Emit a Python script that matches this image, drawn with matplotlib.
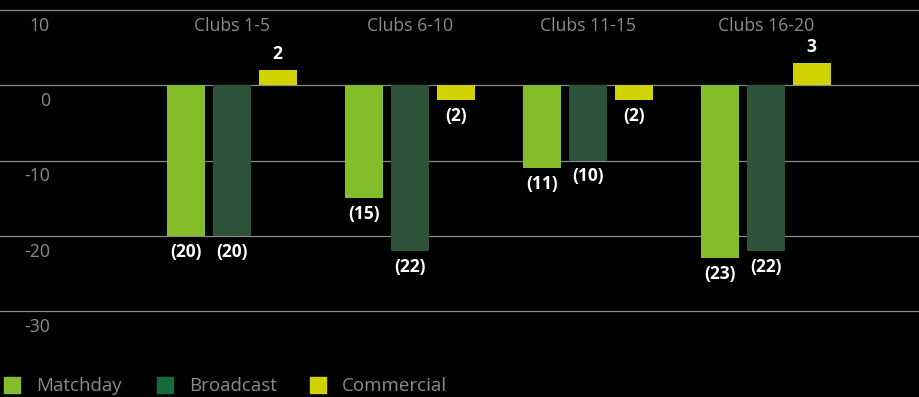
import numpy as np
import matplotlib.pyplot as plt
from matplotlib.patches import Rectangle

plt.rcParams['font.family'] = ['Open Sans', 'DejaVu Sans']

# Data
groups = ['Clubs 1-5', 'Clubs 6-10', 'Clubs 11-15', 'Clubs 16-20']
series = ['Matchday', 'Broadcast', 'Commercial']
matchday = [-20, -15, -11, -23]
broadcast = [-20, -22, -10, -22]
commercial = [2, -2, -2, 3]
y_ticks = [10, 0, -10, -20, -30]

bar_colors = ['#84bd2a', '#2c5238', '#d0d300']
legend_colors = ['#84bd2a', '#176b3a', '#d0d300']
grid_col = '#8c8c8c'
txt_col = '#8c8c8c'

fig = plt.figure(figsize=(9.2, 3.97), dpi=100, facecolor='black')
ax = fig.add_axes([0, 86 / 397, 1, 301 / 397])
ax.set_facecolor('black')
ax.set_xlim(-232 / 178, (920 - 232) / 178)
ax.set_ylim(-30, 10)
ax.axis('off')

# Gridlines + y labels (hanging below each line)
for v in y_ticks:
    ax.axhline(v, color=grid_col, lw=0.9, zorder=0, clip_on=False)
    ax.annotate(str(v), xy=(50 / 920, v), xycoords=('figure fraction', 'data'),
                xytext=(0, -11.5), textcoords='offset points',
                ha='right', va='center', color=txt_col, fontsize=12.7)

x = np.arange(len(groups))
w = 0.214
offs = 0.256
for i, vals in enumerate([matchday, broadcast, commercial]):
    xs = x + (i - 1) * offs
    ax.bar(xs, vals, width=w, color=bar_colors[i], zorder=2)
    for xi, v in zip(xs, vals):
        lab = str(v) if v >= 0 else '(%d)' % abs(v)
        ax.annotate(lab, xy=(xi, v), xytext=(0, 5 if v >= 0 else -5),
                    textcoords='offset points', ha='center',
                    va='bottom' if v >= 0 else 'top',
                    color='white', fontsize=12.5, fontweight='bold')

# Category labels along the top
for xi, g in zip(x, groups):
    ax.annotate(g, xy=(xi, 10), xytext=(0, -11.5), textcoords='offset points',
                ha='center', va='center', color=txt_col, fontsize=12.7)

# Legend
leg_x = [4, 157, 310]
for lx, name, col in zip(leg_x, series, legend_colors):
    fig.patches.append(Rectangle((lx / 920, 4 / 397), 16 / 920, 16 / 397,
                                 transform=fig.transFigure, color=col))
    fig.text((lx + 32) / 920, 11 / 397, name, color=txt_col, fontsize=13.5,
             va='center', ha='left')

fig.savefig('out.png', dpi=100, facecolor='black')
